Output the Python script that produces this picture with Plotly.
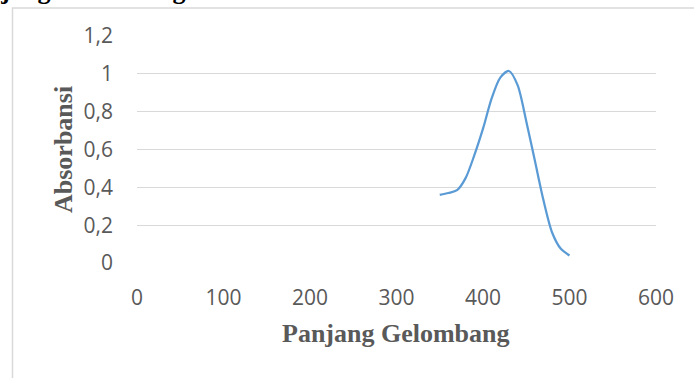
import plotly.graph_objects as go

wavelength = [350, 360, 370, 380, 390, 400, 410, 420, 430, 440, 450, 460, 470, 480, 490, 500]
absorbance = [0.36, 0.37, 0.385, 0.45, 0.57, 0.71, 0.87, 0.98, 1.015, 0.94, 0.75, 0.54, 0.33, 0.16, 0.075, 0.04]

y_tickvals = [0, 0.2, 0.4, 0.6, 0.8, 1, 1.2]
y_ticktext = ["0", "0,2", "0,4", "0,6", "0,8", "1", "1,2"]
x_tickvals = [0, 100, 200, 300, 400, 500, 600]
x_ticktext = ["0", "100", "200", "300", "400", "500", "600"]

title_text = "Panjang Gelombang Maksimum"
x_title = "Panjang Gelombang"
y_title = "Absorbansi"

W, H = 694, 378
L, R, T, B = 137, 38, 36, 115
pw, ph = W - L - R, H - T - B

def px(xp):
    return (xp - L) / pw

def py(yp):
    return (H - B - yp) / ph

fig = go.Figure()
fig.add_trace(go.Scatter(
    x=wavelength, y=absorbance, mode="lines",
    line=dict(color="#5B9BD5", width=2.25, shape="spline", smoothing=0.8),
    showlegend=False, hoverinfo="skip"))

tick_font = dict(family="Open Sans", size=21, color="#595959")
title_font = dict(family="Liberation Serif", size=26, color="#595959")

fig.update_layout(
    width=W, height=H,
    margin=dict(l=L, r=R, t=T, b=B, pad=0),
    paper_bgcolor="white", plot_bgcolor="white",
    xaxis=dict(range=[0, 600], tickvals=x_tickvals, ticktext=x_ticktext,
               showgrid=False, zeroline=False, showline=False, ticks="",
               tickfont=tick_font, ticklabelstandoff=20),
    yaxis=dict(range=[0, 1.2], tickvals=y_tickvals, ticktext=y_ticktext,
               showgrid=True, gridcolor="#D9D9D9", gridwidth=1.3,
               zeroline=False, showline=False, ticks="",
               tickfont=tick_font, ticklabelstandoff=23),
    shapes=[dict(type="rect", xref="paper", yref="paper",
                 x0=px(12.5), x1=px(720), y0=py(400), y1=py(8),
                 line=dict(color="#D9D9D9", width=1.5), fillcolor="rgba(0,0,0,0)",
                 layer="below")],
    annotations=[
        dict(text="<b>" + x_title + "</b>", xref="paper", yref="paper",
             x=px(396), y=py(333), xanchor="center", yanchor="middle",
             showarrow=False, font=title_font),
        dict(text="<b>" + y_title + "</b>", xref="paper", yref="paper",
             x=px(63), y=py(150), xanchor="center", yanchor="middle",
             textangle=-90, showarrow=False, font=title_font),
        dict(text="<b>" + title_text + "</b>", xref="paper", yref="paper",
             x=px(-44), y=py(7), xanchor="left", yanchor="bottom",
             showarrow=False, font=dict(family="Liberation Serif", size=26, color="black")),
    ],
)

fig.write_html("out.html", config={"displayModeBar": False, "staticPlot": True},
               post_script="document.body.style.margin='0';document.body.style.overflow='hidden';")
